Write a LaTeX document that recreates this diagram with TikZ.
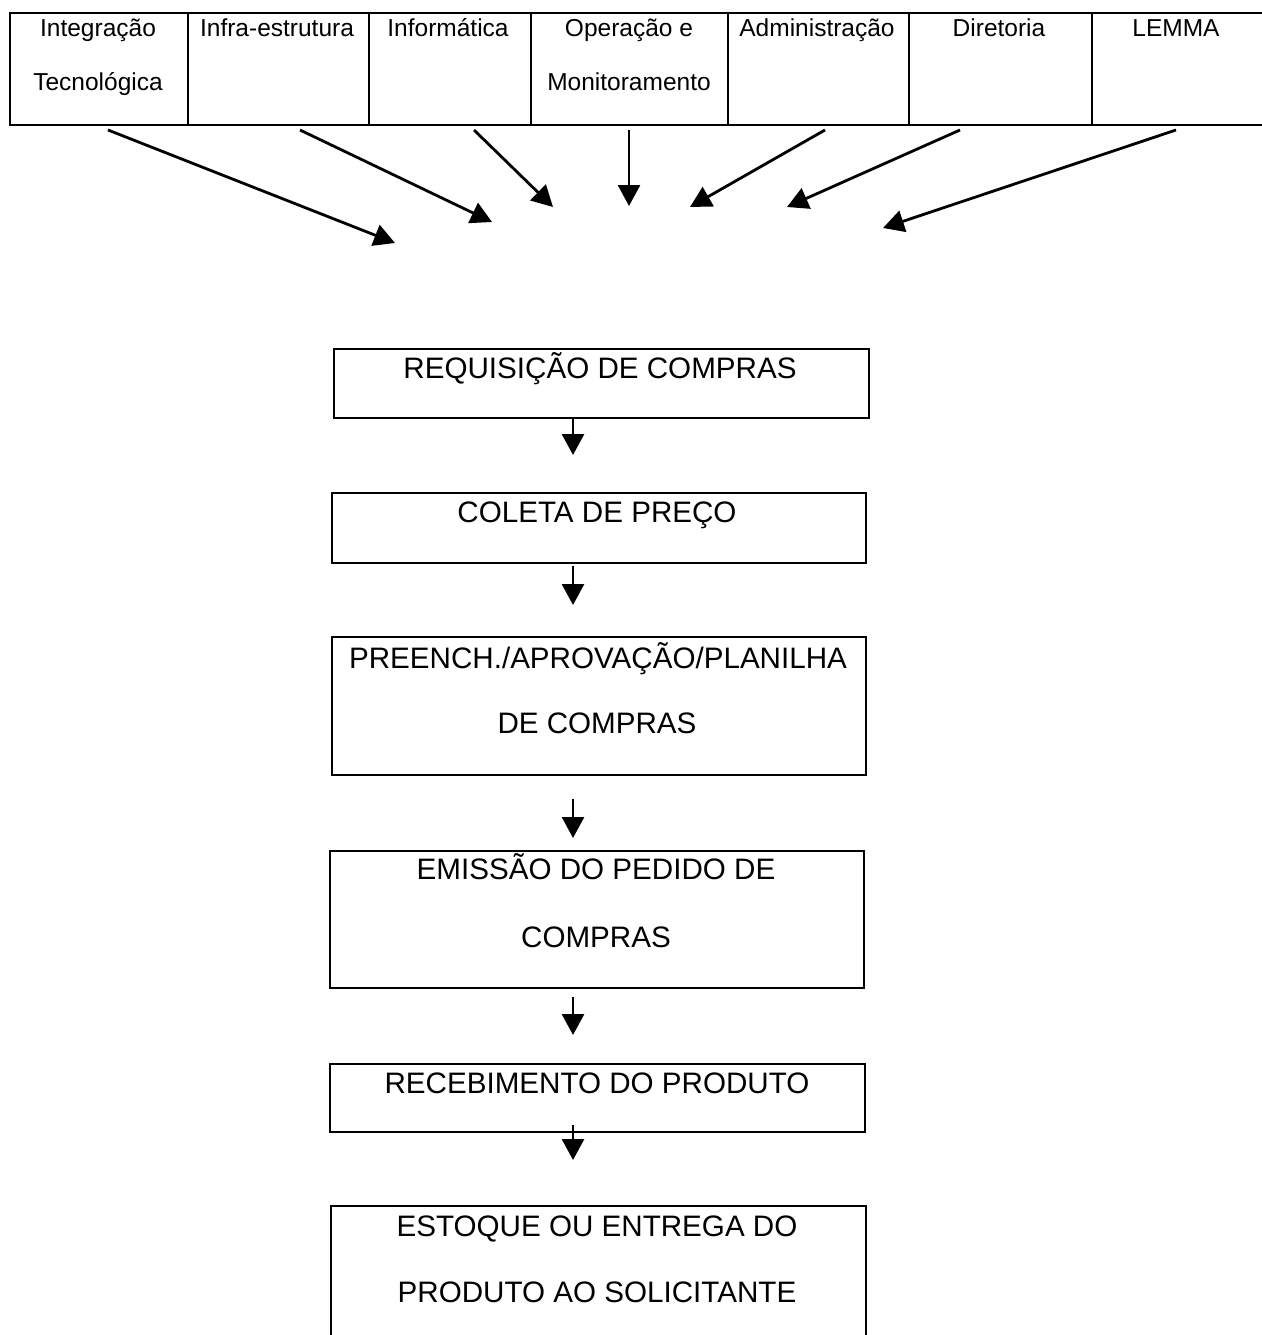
\documentclass[tikz,border=0pt]{standalone}
\usepackage{fontspec}
\setmainfont{Liberation Sans}
\usetikzlibrary{arrows.meta}
\begin{document}
\begin{tikzpicture}[x=1pt,y=-1pt,
  cellbox/.style={draw, line width=1.6pt, anchor=north west, inner sep=0pt},
  stepbox/.style={draw, line width=1.6pt, anchor=north west, inner sep=0pt},
  celltext/.style={anchor=base, font=\fontsize{24.5}{28}\selectfont, inner sep=0pt},
  boxtext/.style={anchor=base, font=\fontsize{29.6}{33}\selectfont, inner sep=0pt},
  arr/.style={line width=2.8pt, -{Triangle[length=21pt,width=22pt]}}]
\useasboundingbox (0,0) rectangle (1261,1335);
% table cells
\node[cellbox, minimum width=178pt, minimum height=112pt] (c1) at (9,12) {};
\node[cellbox, minimum width=181pt, minimum height=112pt] (c2) at (187,12) {};
\node[cellbox, minimum width=162pt, minimum height=112pt] (c3) at (368,12) {};
\node[cellbox, minimum width=197pt, minimum height=112pt] (c4) at (530,12) {};
\node[cellbox, minimum width=181pt, minimum height=112pt] (c5) at (727,12) {};
\node[cellbox, minimum width=183pt, minimum height=112pt] (c6) at (908,12) {};
\node[cellbox, minimum width=180pt, minimum height=112pt] (c7) at (1091,12) {};
% cell texts
\node[celltext] (t1a) at (98,37) {Integração};
\node[celltext] (t1b) at (98,91) {Tecnológica};
\node[celltext] (t2) at (277,37) {Infra-estrutura};
\node[celltext] (t3) at (448,37) {Informática};
\node[celltext] (t4a) at (629,37) {Operação e};
\node[celltext] (t4b) at (629,91) {Monitoramento};
\node[celltext] (t5) at (817,37) {Administração};
\node[celltext] (t6) at (999,37) {Diretoria};
\node[celltext] (t7) at (1176,37) {LEMMA};
% arrow coordinates
\coordinate (s1) at (108,130); \coordinate (e1) at (395,243);
\coordinate (s2) at (300,130); \coordinate (e2) at (492,222);
\coordinate (s3) at (474,130); \coordinate (e3) at (553,207);
\coordinate (s4) at (629,130); \coordinate (e4) at (629,206);
\coordinate (s5) at (825,130); \coordinate (e5) at (690,207);
\coordinate (s6) at (960,130); \coordinate (e6) at (787,207);
\coordinate (s7) at (1176,130); \coordinate (e7) at (883,228);
\foreach \i in {1,...,7} {\draw[arr] (s\i) -- (e\i);}
% process boxes
\node[stepbox, minimum width=535pt, minimum height=69pt] (b1) at (333,348) {};
\node[stepbox, minimum width=534pt, minimum height=70pt] (b2) at (331,492) {};
\node[stepbox, minimum width=534pt, minimum height=138pt] (b3) at (331,636) {};
\node[stepbox, minimum width=534pt, minimum height=137pt] (b4) at (329,850) {};
\node[stepbox, minimum width=535pt, minimum height=68pt] (b5) at (329,1063) {};
\node[stepbox, minimum width=535pt, minimum height=140pt] (b6) at (330,1205) {};
\node[boxtext] (bt1) at (600,378) {REQUISIÇÃO DE COMPRAS};
\node[boxtext] (bt2) at (597,522) {COLETA DE PREÇO};
\node[boxtext] (bt3a) at (598,668) {PREENCH./APROVAÇÃO/PLANILHA};
\node[boxtext] (bt3b) at (597,733) {DE COMPRAS};
\node[boxtext] (bt4a) at (596,879) {EMISSÃO DO PEDIDO DE};
\node[boxtext] (bt4b) at (596,947) {COMPRAS};
\node[boxtext] (bt5) at (597,1093) {RECEBIMENTO DO PRODUTO};
\node[boxtext] (bt6a) at (597,1236) {ESTOQUE OU ENTREGA DO};
\node[boxtext] (bt6b) at (597,1302) {PRODUTO AO SOLICITANTE};
% vertical arrows
\coordinate (xa) at (573,0);
\draw[arr, shorten >=37pt] (b1.south -| xa) -- (b2.north -| xa);
\draw[arr, shorten <=2pt, shorten >=31pt] (b2.south -| xa) -- (b3.north -| xa);
\draw[arr, shorten <=23pt, shorten >=12pt] (b3.south -| xa) -- (b4.north -| xa);
\draw[arr, shorten <=8pt, shorten >=28pt] (b4.south -| xa) -- (b5.north -| xa);
\draw[arr, shorten <=-8pt, shorten >=45pt] (b5.south -| xa) -- (b6.north -| xa);
\end{tikzpicture}
\end{document}
